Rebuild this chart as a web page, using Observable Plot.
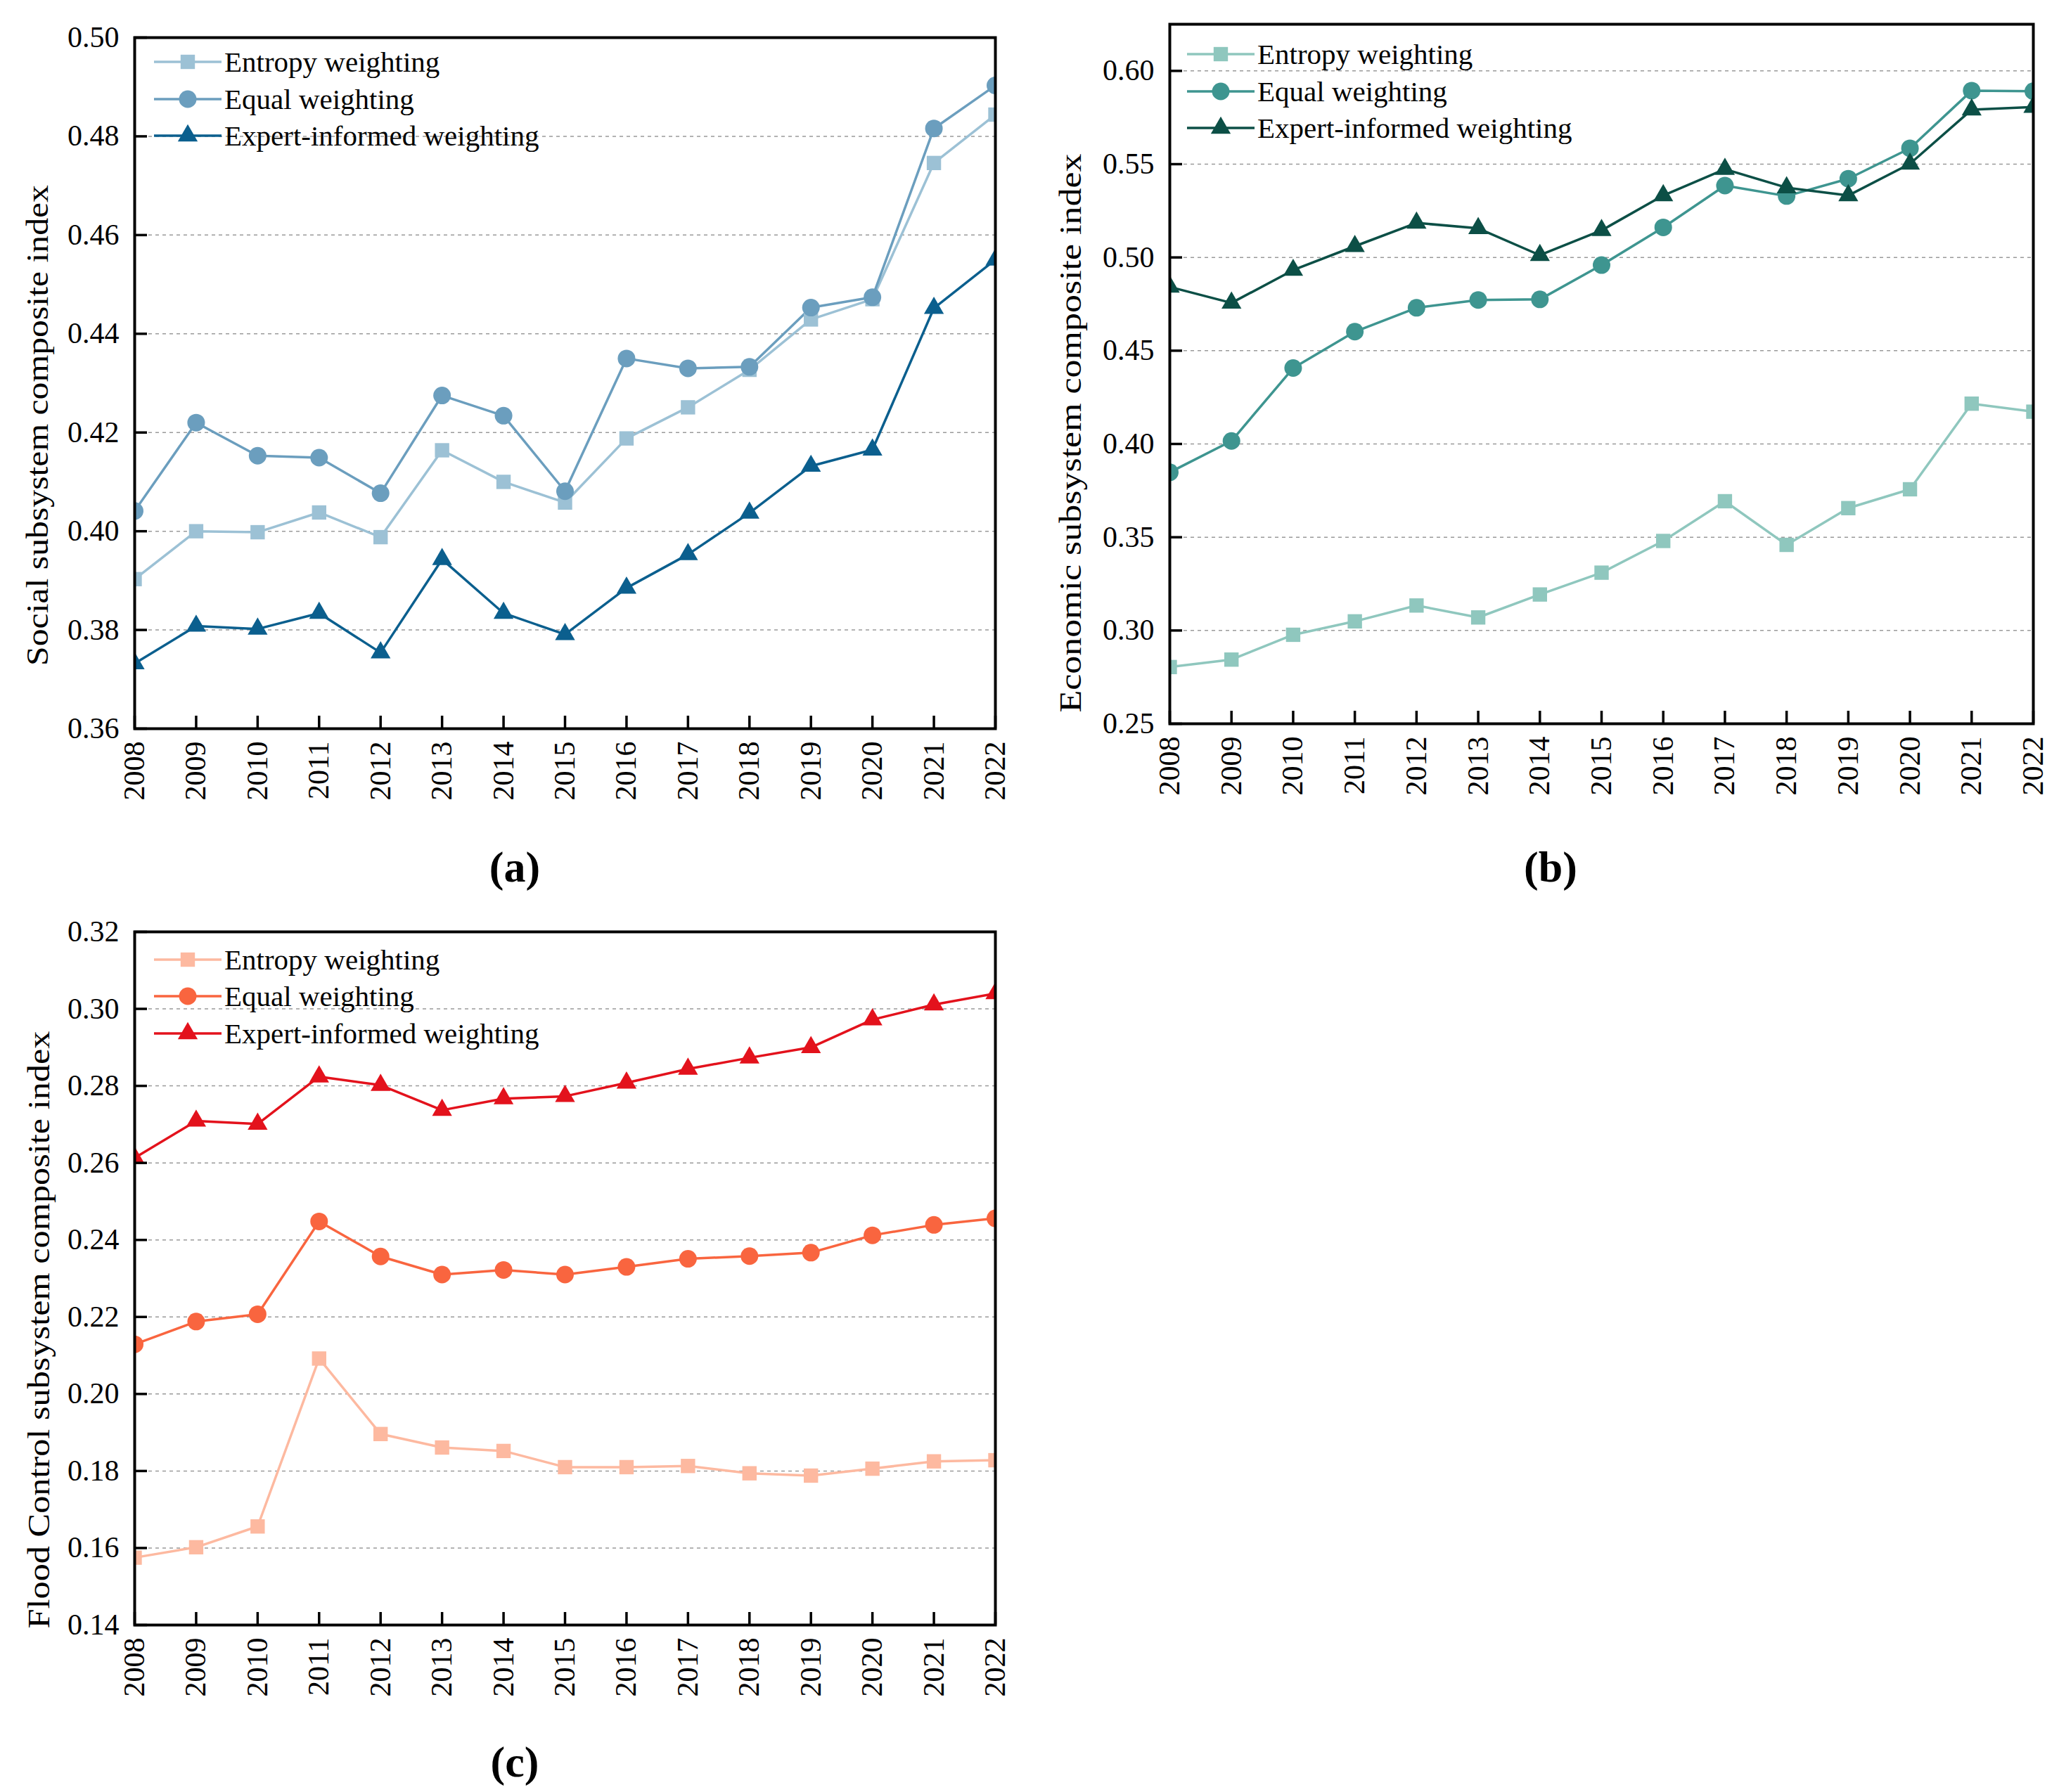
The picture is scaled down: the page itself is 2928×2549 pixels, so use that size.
<!DOCTYPE html>
<html>
<head>
<meta charset="utf-8">
<script src="https://cdn.jsdelivr.net/npm/d3@7"></script>
<script src="https://cdn.jsdelivr.net/npm/@observablehq/plot@0.6"></script>
<style>
  html, body { margin: 0; padding: 0; background: #fff; }
  #root { position: relative; width: 2928px; height: 2549px; background: #fff; font-family: "Liberation Serif", "Times New Roman", serif; }
  .panel { position: absolute; }
  .legend { position: absolute; font-family: "Liberation Serif", "Times New Roman", serif; font-size: 41px; color: #000; }
  .lrow { position: absolute; white-space: nowrap; }
  .lrow svg { position: absolute; left: 0; top: 0; }
  .lrow span { position: absolute; top: 0; line-height: 1; transform: translateY(-50%); }
  .plabel { position: absolute; font-family: "Liberation Serif", "Times New Roman", serif; font-size: 62px; font-weight: bold; transform: translate(-50%, -50%); line-height: 1; }
</style>
</head>
<body>
<div id="root"></div>
<script>
// ---------- data ----------
const years = [2008, 2009, 2010, 2011, 2012, 2013, 2014, 2015, 2016, 2017, 2018, 2019, 2020, 2021, 2022];
const seriesNames = ["Entropy weighting", "Equal weighting", "Expert-informed weighting"];

// (a) Social subsystem
const socialEntropy = [0.3903, 0.4000, 0.3998, 0.4038, 0.3988, 0.4164, 0.4100, 0.4058, 0.4188, 0.4251, 0.4327, 0.4429, 0.4470, 0.4746, 0.4844];
const socialEqual   = [0.4041, 0.4220, 0.4153, 0.4149, 0.4077, 0.4275, 0.4234, 0.4081, 0.4350, 0.4330, 0.4333, 0.4453, 0.4474, 0.4816, 0.4903];
const socialExpert  = [0.3732, 0.3808, 0.3802, 0.3834, 0.3754, 0.3943, 0.3834, 0.3791, 0.3885, 0.3953, 0.4037, 0.4132, 0.4165, 0.4452, 0.4550];
const socialTicks = [0.36, 0.38, 0.40, 0.42, 0.44, 0.46, 0.48, 0.50];

// (b) Economic subsystem
const econEntropy = [0.2804, 0.2844, 0.2977, 0.3049, 0.3134, 0.3070, 0.3193, 0.3310, 0.3480, 0.3693, 0.3459, 0.3656, 0.3757, 0.4216, 0.4173];
const econEqual   = [0.3848, 0.4016, 0.4407, 0.4602, 0.4730, 0.4772, 0.4775, 0.4959, 0.5161, 0.5385, 0.5329, 0.5422, 0.5585, 0.5894, 0.5891];
const econExpert  = [0.4842, 0.4756, 0.4932, 0.5060, 0.5185, 0.5156, 0.5012, 0.5145, 0.5332, 0.5473, 0.5374, 0.5332, 0.5502, 0.5792, 0.5806];
const econTicks = [0.25, 0.30, 0.35, 0.40, 0.45, 0.50, 0.55, 0.60];

// (c) Flood Control subsystem
const floodEntropy = [0.1575, 0.1602, 0.1656, 0.2092, 0.1896, 0.1861, 0.1852, 0.1810, 0.1810, 0.1813, 0.1794, 0.1788, 0.1806, 0.1825, 0.1828];
const floodEqual   = [0.2129, 0.2188, 0.2207, 0.2448, 0.2357, 0.2310, 0.2322, 0.2310, 0.2330, 0.2351, 0.2358, 0.2367, 0.2412, 0.2439, 0.2456];
const floodExpert  = [0.2613, 0.2709, 0.2701, 0.2824, 0.2802, 0.2737, 0.2767, 0.2773, 0.2808, 0.2844, 0.2873, 0.2900, 0.2972, 0.3011, 0.3040];
const floodTicks = [0.14, 0.16, 0.18, 0.20, 0.22, 0.24, 0.26, 0.28, 0.30, 0.32];

// ---------- styling ----------
const FONT = '"Liberation Serif", "Times New Roman", serif';
const symbols = ["square", "circle", "triangle"];
const symbolR = [11.5, 12.5, 10.5];
const d3Symbols = [d3.symbolSquare, d3.symbolCircle, d3.symbolTriangle];

const panels = [
  {
    left: 0, top: 0, width: 1464, mL: 191, mR: 49, mT: 53, plotH: 983, mB: 160,
    domain: [0.36, 0.50], ticks: socialTicks, values: [socialEntropy, socialEqual, socialExpert],
    colors: ["#9cc1d5", "#6b9ebe", "#0b5f8e"],
    title: "Social subsystem composite index", titleLen: 684, titleDx: -138, titleDy: 60,
    legendX: 219, legendY: [88, 141, 193], label: "(a)", labelX: 732, labelY: 1233
  },
  {
    left: 1464, top: 0, width: 1464, mL: 199, mR: 37, mT: 34, plotH: 995, mB: 160,
    domain: [0.25, 0.625], ticks: econTicks, values: [econEntropy, econEqual, econExpert],
    colors: ["#8fc7be", "#3e9590", "#0c4f46"],
    title: "Economic subsystem composite index", titleLen: 795, titleDx: -141, titleDy: 84,
    legendX: 1688, legendY: [77, 130, 182], label: "(b)", labelX: 2205, labelY: 1233
  },
  {
    left: 0, top: 1270, width: 1464, mL: 191, mR: 49, mT: 55, plotH: 986, mB: 160,
    domain: [0.14, 0.32], ticks: floodTicks, values: [floodEntropy, floodEqual, floodExpert],
    colors: ["#fdb9a0", "#f9653f", "#e3121c"],
    title: "Flood Control subsystem composite index", titleLen: 850, titleDx: -136, titleDy: 73,
    legendX: 219, legendY: [1365, 1417, 1470], label: "(c)", labelX: 732, labelY: 2506
  }
];

const root = document.getElementById("root");

for (const p of panels) {
  const plotW = p.width - p.mL - p.mR;
  const rows = p.values.map((vals, si) => years.map((year, i) => ({ year, value: vals[i], series: seriesNames[si] })));

  const marks = [
    Plot.ruleY(p.ticks.slice(1), { stroke: "#9a9a9a", strokeWidth: 1.5, strokeDasharray: "5,5" }),
  ];
  rows.forEach((data, si) => {
    marks.push(Plot.line(data, { x: "year", y: "value", stroke: p.colors[si], strokeWidth: 3.5, clip: true }));
  });
  rows.forEach((data, si) => {
    marks.push(Plot.dot(data, { x: "year", y: "value", symbol: () => symbols[si], r: symbolR[si], fill: p.colors[si], stroke: "none", clip: true }));
  });
  marks.push(
    Plot.ruleX(years, { stroke: "#000", strokeWidth: 3.5, insetTop: p.plotH - 18 }),
    Plot.ruleY(p.ticks, { stroke: "#000", strokeWidth: 3.5, insetRight: plotW - 18 }),
    Plot.axisX(years, { tickSize: 0, tickPadding: 18, tickRotate: -90, tickFormat: d => String(d), fontSize: 42, label: null }),
    Plot.axisY(p.ticks, { tickSize: 0, tickPadding: 22, tickFormat: d => d.toFixed(2), fontSize: 42, label: null }),
    Plot.frame({ stroke: "#000", strokeWidth: 4 }),
    Plot.text([p.title], { text: d => d, frameAnchor: "left", textAnchor: "middle", lineAnchor: "middle", rotate: -90, dx: p.titleDx, dy: p.titleDy, fontSize: 44, fill: "#000" })
  );

  const svg = Plot.plot({
    width: p.width,
    height: p.mT + p.plotH + p.mB,
    marginLeft: p.mL, marginRight: p.mR, marginTop: p.mT, marginBottom: p.mB,
    style: { fontFamily: FONT, color: "#000", background: "transparent", overflow: "visible" },
    x: { type: "linear", domain: [years[0], years[years.length - 1]] },
    y: { type: "linear", domain: p.domain },
    symbol: { type: "identity" },
    marks
  });

  // stretch the axis title along its length, as in the reference
  svg.querySelectorAll("text").forEach(t => {
    if (t.textContent === p.title) {
      t.setAttribute("textLength", p.titleLen);
      t.setAttribute("lengthAdjust", "spacingAndGlyphs");
    }
  });

  const div = document.createElement("div");
  div.className = "panel";
  div.style.left = p.left + "px";
  div.style.top = p.top + "px";
  div.appendChild(svg);
  root.appendChild(div);

  // legend (overlay)
  const legend = document.createElement("div");
  legend.className = "legend";
  legend.style.left = "0px"; legend.style.top = "0px";
  seriesNames.forEach((name, si) => {
    const row = document.createElement("div");
    row.className = "lrow";
    row.style.left = p.legendX + "px";
    row.style.top = p.legendY[si] + "px";
    const sw = d3.create("svg").attr("width", 100).attr("height", 40)
      .style("position", "absolute").style("left", "0px").style("top", "-20px").style("overflow", "visible");
    sw.append("line").attr("x1", 0).attr("x2", 96).attr("y1", 20).attr("y2", 20)
      .attr("stroke", p.colors[si]).attr("stroke-width", 3.5);
    sw.append("path").attr("transform", "translate(48,20)")
      .attr("d", d3.symbol(d3Symbols[si], Math.PI * symbolR[si] * symbolR[si])())
      .attr("fill", p.colors[si]);
    row.appendChild(sw.node());
    const span = document.createElement("span");
    span.textContent = name;
    span.style.left = "100px";
    row.appendChild(span);
    legend.appendChild(row);
  });
  root.appendChild(legend);

  const lab = document.createElement("div");
  lab.className = "plabel";
  lab.style.left = p.labelX + "px";
  lab.style.top = p.labelY + "px";
  lab.textContent = p.label;
  root.appendChild(lab);
}
</script>
</body>
</html>
